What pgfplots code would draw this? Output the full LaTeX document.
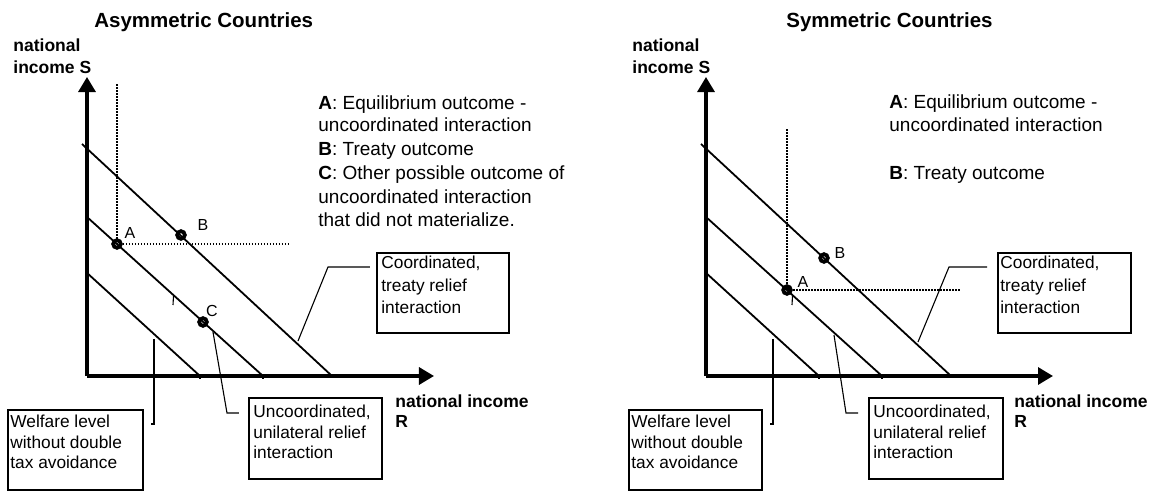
\documentclass[border=0pt]{standalone}
\usepackage{pgfplots}
\pgfplotsset{compat=1.18}
\usepackage{fontspec}
\setmainfont{Liberation Sans}
\usetikzlibrary{arrows.meta}
\newcommand{\ttl}{\fontsize{10.25bp}{12bp}\selectfont\bfseries}
\newcommand{\lgd}{\fontsize{9.5bp}{11bp}\selectfont}
\newcommand{\bxt}{\fontsize{8.65bp}{10bp}\selectfont}
\newcommand{\axl}{\fontsize{8.75bp}{10bp}\selectfont\bfseries}
\newcommand{\ptl}{\fontsize{8bp}{9bp}\selectfont}
\tikzset{
  curve/.style={line width=0.9bp, black},
  dotline/.style={line width=0.8bp, black, dash pattern=on 0.75bp off 0.75bp},
  leader/.style={line width=0.55bp, black},
  tx/.style={anchor=base west, inner sep=0pt},
}
\pgfplotsset{
  panel/.style={
    x=0.5bp, y=0.5bp,
    xmin=0, xmax=347, ymin=0, ymax=299,
    axis lines=left,
    axis line style={line width=1.6bp, -{Triangle[length=7.5bp,width=8.5bp]}},
    xtick=\empty, ytick=\empty,
    clip=false,
    anchor=south west,
  },
  pt/.style={only marks, mark=o, mark size=1.9bp, mark options={line width=1.9bp, black}},
}
\begin{document}
\begin{tikzpicture}
\path[use as bounding box] (0,0) rectangle (575bp,245.5bp);
% ---------------- Left panel ----------------
\begin{axis}[panel, at={(43.5bp,57.5bp)}]
\addplot[curve] coordinates {(-5,232) (245,0)};
\addplot[curve] coordinates {(0,159) (176,0)};
\addplot[curve] coordinates {(-1,104) (113,0)};
\addplot[leader] coordinates {(113,0) (113,-3)};
\addplot[leader] coordinates {(176,0) (176,-3)};
\addplot[leader] coordinates {(86.5,80) (86,71)};
\addplot[dotline] coordinates {(30,292) (30,132)};
\addplot[dotline] coordinates {(30,132) (203,132)};
\addplot[pt] coordinates {(30,132) (94,141) (116,54)};
\node[inner sep=0pt] at (axis cs:43,143) {\ptl A};
\node[inner sep=0pt] at (axis cs:116,151) {\ptl B};
\node[inner sep=0pt] at (axis cs:125,65) {\ptl C};
\addplot[leader] coordinates {(211,35) (241,109) (283,109)};
\addplot[leader] coordinates {(126,44) (140,-37) (152,-37)};
\addplot[leader] coordinates {(67,37) (67,-48) (64,-48)};
\draw[leader] (axis cs:290,123) rectangle (axis cs:422,43);
\draw[leader] (axis cs:162,-22) rectangle (axis cs:295,-103);
\draw[leader] (axis cs:-79,-34) rectangle (axis cs:56,-114);
\node[tx] at (axis cs:294,108) {\bxt Coordinated,};
\node[tx] at (axis cs:294,85) {\bxt treaty relief};
\node[tx] at (axis cs:294,63) {\bxt interaction};
\node[tx] at (axis cs:166,-42) {\bxt Uncoordinated,};
\node[tx] at (axis cs:166,-63) {\bxt unilateral relief};
\node[tx] at (axis cs:166,-83) {\bxt interaction};
\node[tx] at (axis cs:-77,-52) {\bxt Welfare level};
\node[tx] at (axis cs:-77,-73) {\bxt without double};
\node[tx] at (axis cs:-77,-93) {\bxt tax avoidance};
\node[tx] at (axis cs:-74,325) {\axl national};
\node[tx] at (axis cs:-74,303) {\axl income S};
\node[tx] at (axis cs:308,-32) {\axl national income};
\node[tx] at (axis cs:308,-52) {\axl R};
\node[tx] at (axis cs:7,349) {\ttl Asymmetric Countries};
\node[tx] at (axis cs:231,267) {\lgd\textbf{A}: Equilibrium outcome -};
\node[tx] at (axis cs:231,244.5) {\lgd uncoordinated interaction};
\node[tx] at (axis cs:231,221) {\lgd\textbf{B}: Treaty outcome};
\node[tx] at (axis cs:231,197) {\lgd\textbf{C}: Other possible outcome of};
\node[tx] at (axis cs:231,173) {\lgd uncoordinated interaction};
\node[tx] at (axis cs:231,149) {\lgd that did not materialize.};
\end{axis}
% ---------------- Right panel ----------------
\begin{axis}[panel, at={(353bp,57.5bp)}]
\addplot[curve] coordinates {(-5,232) (245,0)};
\addplot[curve] coordinates {(0,159) (176,0)};
\addplot[curve] coordinates {(-1,104) (113,0)};
\addplot[leader] coordinates {(113,0) (113,-3)};
\addplot[leader] coordinates {(176,0) (176,-3)};
\addplot[leader] coordinates {(86.5,80) (86,71)};
\addplot[dotline] coordinates {(81,247) (81,86)};
\addplot[dotline] coordinates {(81,86) (254,86)};
\addplot[pt] coordinates {(81,86) (118,118)};
\node[inner sep=0pt] at (axis cs:97,94) {\ptl A};
\node[inner sep=0pt] at (axis cs:134,123) {\ptl B};
\addplot[leader] coordinates {(212,34) (243,109) (281,109)};
\addplot[leader] coordinates {(128,41) (140,-37) (152,-37)};
\addplot[leader] coordinates {(67,37) (67,-48) (64,-48)};
\draw[leader] (axis cs:292,123) rectangle (axis cs:425,43);
\draw[leader] (axis cs:163,-22) rectangle (axis cs:297,-103);
\draw[leader] (axis cs:-77,-34) rectangle (axis cs:56,-114);
\node[tx] at (axis cs:294,108) {\bxt Coordinated,};
\node[tx] at (axis cs:294,85) {\bxt treaty relief};
\node[tx] at (axis cs:294,63) {\bxt interaction};
\node[tx] at (axis cs:167,-42) {\bxt Uncoordinated,};
\node[tx] at (axis cs:167,-63) {\bxt unilateral relief};
\node[tx] at (axis cs:167,-83) {\bxt interaction};
\node[tx] at (axis cs:-75,-52) {\bxt Welfare level};
\node[tx] at (axis cs:-75,-73) {\bxt without double};
\node[tx] at (axis cs:-75,-93) {\bxt tax avoidance};
\node[tx] at (axis cs:-74,325) {\axl national};
\node[tx] at (axis cs:-74,303) {\axl income S};
\node[tx] at (axis cs:308,-32) {\axl national income};
\node[tx] at (axis cs:308,-52) {\axl R};
\node[tx] at (axis cs:80,349) {\ttl Symmetric Countries};
\node[tx] at (axis cs:183,268) {\lgd\textbf{A}: Equilibrium outcome -};
\node[tx] at (axis cs:183,245) {\lgd uncoordinated interaction};
\node[tx] at (axis cs:183,197) {\lgd\textbf{B}: Treaty outcome};
\end{axis}
\end{tikzpicture}
\end{document}
